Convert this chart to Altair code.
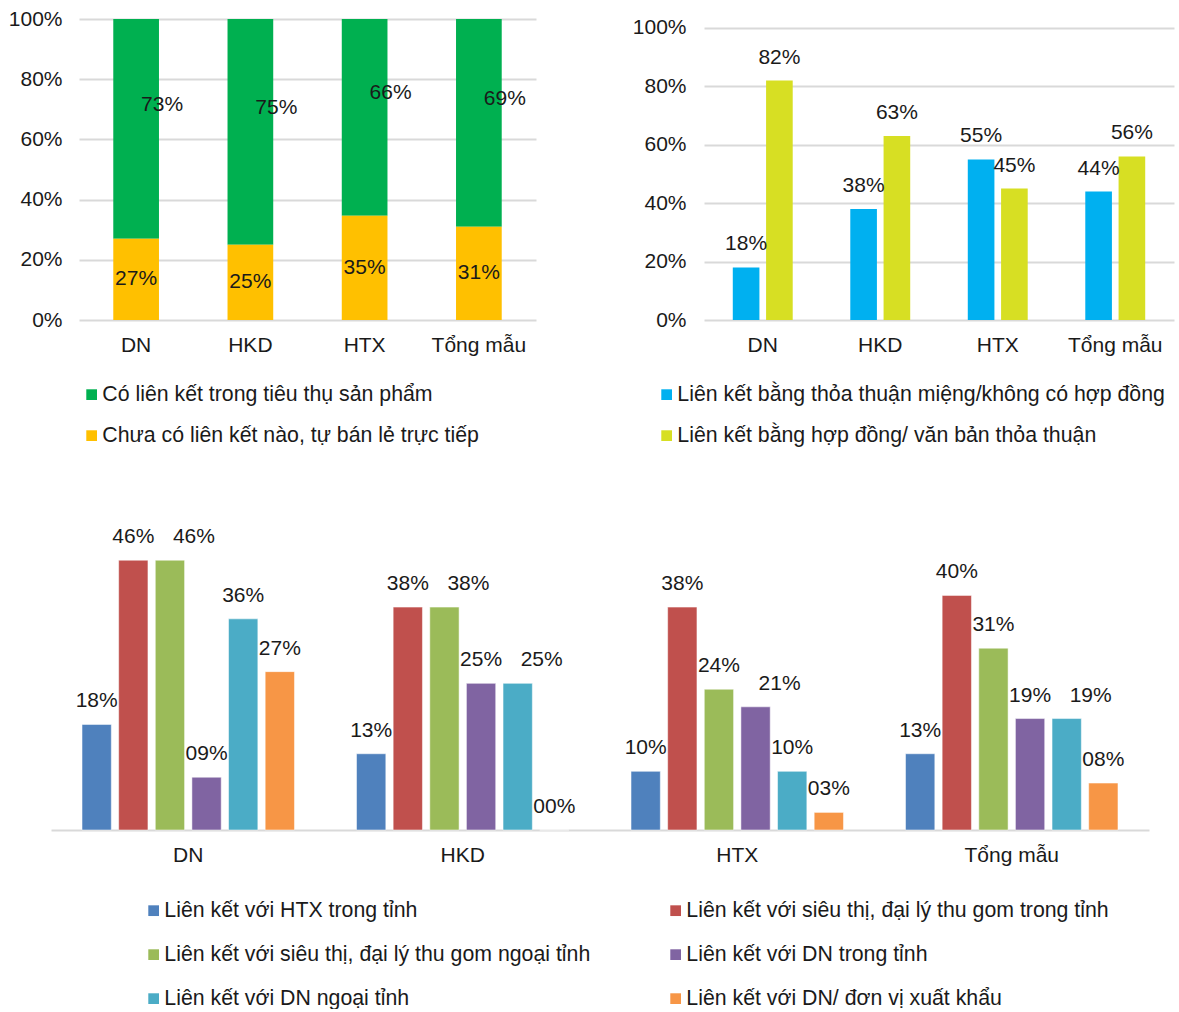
import altair as alt
import pandas as pd

FONT = "Liberation Sans"
TXT = "#1a1a1a"
GRID = "#D9D9D9"
FS = 21

cats = ["DN", "HKD", "HTX", "Tổng mẫu"]

# Chart 1 (stacked 100%)
s1_names = ["Có liên kết trong tiêu thụ sản phẩm", "Chưa có liên kết nào, tự bán lẻ trực tiếp"]
s1_linked = [73, 75, 66, 69]
s1_none = [27, 25, 35, 31]
s1_colors = ["#00B050", "#FFC000"]

# Chart 2 (grouped)
s2_names = ["Liên kết bằng thỏa thuận miệng/không có hợp đồng", "Liên kết bằng hợp đồng/ văn bản thỏa thuận"]
s2_oral = [18, 38, 55, 44]
s2_contract = [82, 63, 45, 56]
s2_colors = ["#00B0F0", "#D7DF23"]

# Chart 3 (grouped, six series)
s3_names = [
    "Liên kết với HTX trong tỉnh",
    "Liên kết với siêu thị, đại lý thu gom trong tỉnh",
    "Liên kết với siêu thị, đại lý thu gom ngoại tỉnh",
    "Liên kết với DN trong tỉnh",
    "Liên kết với DN ngoại tỉnh",
    "Liên kết với DN/ đơn vị xuất khẩu",
]
s3_htx_in = [18, 13, 10, 13]
s3_market_in = [46, 38, 38, 40]
s3_market_out = [46, 38, 24, 31]
s3_dn_in = [9, 25, 21, 19]
s3_dn_out = [36, 25, 10, 19]
s3_export = [27, 0, 3, 8]
s3_colors = ["#4F81BD", "#C0504D", "#9BBB59", "#8064A2", "#4BACC6", "#F79646"]


def make_df(names, series_vals, field):
    rows = []
    for k, vals in enumerate(series_vals):
        for c, v in zip(cats, vals):
            rows.append({"cat": c, field: names[k], "k": k, "v": v})
    return pd.DataFrame(rows)


df1 = make_df(s1_names, [s1_linked, s1_none], "s1")
df2 = make_df(s2_names, [s2_oral, s2_contract], "s2")
df3 = make_df(s3_names, [s3_htx_in, s3_market_in, s3_market_out, s3_dn_in, s3_dn_out, s3_export], "s3")

xaxis = alt.Axis(labelAngle=0, domain=False, ticks=False, labelPadding=14, grid=False)

# ---------- Chart 1 ----------
x1 = alt.X("cat:N", sort=cats, title=None,
           scale=alt.Scale(paddingInner=0.6, paddingOuter=0.3), axis=xaxis)
base1 = alt.Chart(df1).transform_stack(
    stack="v", groupby=["cat"], sort=[alt.SortField("k", order="descending")],
    as_=["y0", "y1"], offset="normalize"
).transform_calculate(mid="(datum.y0 + datum.y1) / 2", label="format(datum.v, 'd') + '%'")

bars1 = base1.mark_bar().encode(
    x=x1,
    y=alt.Y("y0:Q", title=None, scale=alt.Scale(domain=[0, 1], nice=False),
            axis=alt.Axis(format=".0%", values=[0, 0.2, 0.4, 0.6, 0.8, 1.0], domain=False,
                          ticks=False, labelPadding=17, grid=True)),
    y2="y1:Q",
    color=alt.Color("s1:N", scale=alt.Scale(domain=s1_names, range=s1_colors),
                    legend=alt.Legend(orient="none", legendX=2, legendY=365, title=None,
                                      direction="vertical", rowPadding=19)),
)
txt1a = base1.transform_filter("datum.k == 0").mark_text(fontSize=FS, dx=26, dy=-24, color=TXT).encode(
    x=x1, y=alt.Y("mid:Q", title=None), text="label:N")
txt1b = base1.transform_filter("datum.k == 1").mark_text(fontSize=FS, color=TXT).encode(
    x=x1, y=alt.Y("mid:Q", title=None), text="label:N")
c1 = alt.layer(bars1, txt1a, txt1b).properties(width=457, height=301)

# ---------- Chart 2 ----------
x2 = alt.X("cat:N", sort=cats, title=None,
           scale=alt.Scale(paddingInner=0.49, paddingOuter=0.245), axis=xaxis)
xo2 = alt.XOffset("s2:N", sort=s2_names, scale=alt.Scale(paddingInner=0.2, paddingOuter=0))
base2 = alt.Chart(df2).transform_calculate(label="format(datum.v, 'd') + '%'")
y2 = alt.Y("v:Q", title=None, scale=alt.Scale(domain=[0, 103.08], nice=False),
           axis=alt.Axis(values=[0, 20, 40, 60, 80, 100], labelExpr="datum.value + '%'",
                         domain=False, ticks=False, labelPadding=18, grid=True))
bars2 = base2.mark_bar().encode(
    x=x2, xOffset=xo2, y=y2,
    color=alt.Color("s2:N", scale=alt.Scale(domain=s2_names, range=s2_colors),
                    legend=alt.Legend(orient="none", legendX=-48, legendY=365, title=None,
                                      direction="vertical", rowPadding=19)),
)
txt2 = base2.mark_text(fontSize=FS, dy=-23, color=TXT).encode(
    x=x2, xOffset=xo2, y=alt.Y("v:Q", title=None), text="label:N")
c2 = alt.layer(bars2, txt2).properties(width=470, height=301)

# ---------- Chart 3 ----------
x3 = alt.X("cat:N", sort=cats, title=None,
           scale=alt.Scale(paddingInner=0.226, paddingOuter=0.113, range=[-28, 1070]),
           axis=alt.Axis(labelAngle=0, domain=True, domainColor=GRID, domainWidth=2,
                         ticks=False, labelPadding=14, grid=False))
xo3 = alt.XOffset("s3:N", sort=s3_names, scale=alt.Scale(paddingInner=0.2, paddingOuter=0))
base3 = alt.Chart(df3).transform_window(
    prev="lag(v)", groupby=["cat"], sort=[alt.SortField("k")]
).transform_calculate(
    label="format(datum.v, '02d') + '%'",
    clash="datum.prev != null && abs(datum.v - datum.prev) < 4 ? 1 : 0",
)
bars3 = base3.mark_bar(stroke="white", strokeOpacity=0.5, strokeWidth=1).encode(
    x=x3, xOffset=xo3,
    y=alt.Y("v:Q", title=None, scale=alt.Scale(domain=[0, 52], nice=False), axis=None),
    color=alt.Color("s3:N", scale=alt.Scale(domain=s3_names, range=s3_colors),
                    legend=alt.Legend(orient="none", legendX=64, legendY=375, title=None,
                                      direction="horizontal", columns=2,
                                      columnPadding=74, rowPadding=22)),
)
txt3a = base3.transform_filter("datum.clash == 0").mark_text(fontSize=FS, dy=-23, color=TXT).encode(
    x=x3, xOffset=xo3, y=alt.Y("v:Q", title=None), text="label:N")
txt3b = base3.transform_filter("datum.clash == 1").mark_text(fontSize=FS, dx=24, dy=-23, color=TXT).encode(
    x=x3, xOffset=xo3, y=alt.Y("v:Q", title=None), text="label:N")
c3 = alt.layer(bars3, txt3a, txt3b).properties(width=1070, height=305)

top = alt.hconcat(c1, c2, spacing=96).resolve_scale(color="independent", xOffset="independent")
chart = alt.vconcat(top, c3, spacing=79).resolve_scale(
    color="independent", xOffset="independent"
).properties(
    padding={"left": 8, "top": 8, "right": 0, "bottom": 0}, background="white"
).configure_view(stroke=None).configure_axis(
    labelFont=FONT, labelFontSize=FS, labelColor=TXT, gridColor=GRID, gridWidth=2
).configure_legend(
    labelFont=FONT, labelFontSize=21.3, labelColor=TXT, symbolType="square",
    symbolSize=115, symbolStrokeWidth=0, labelLimit=800, padding=0, labelOffset=0
).configure_text(font=FONT)

chart.save("out.html", embed_options={"renderer": "svg", "actions": False})
